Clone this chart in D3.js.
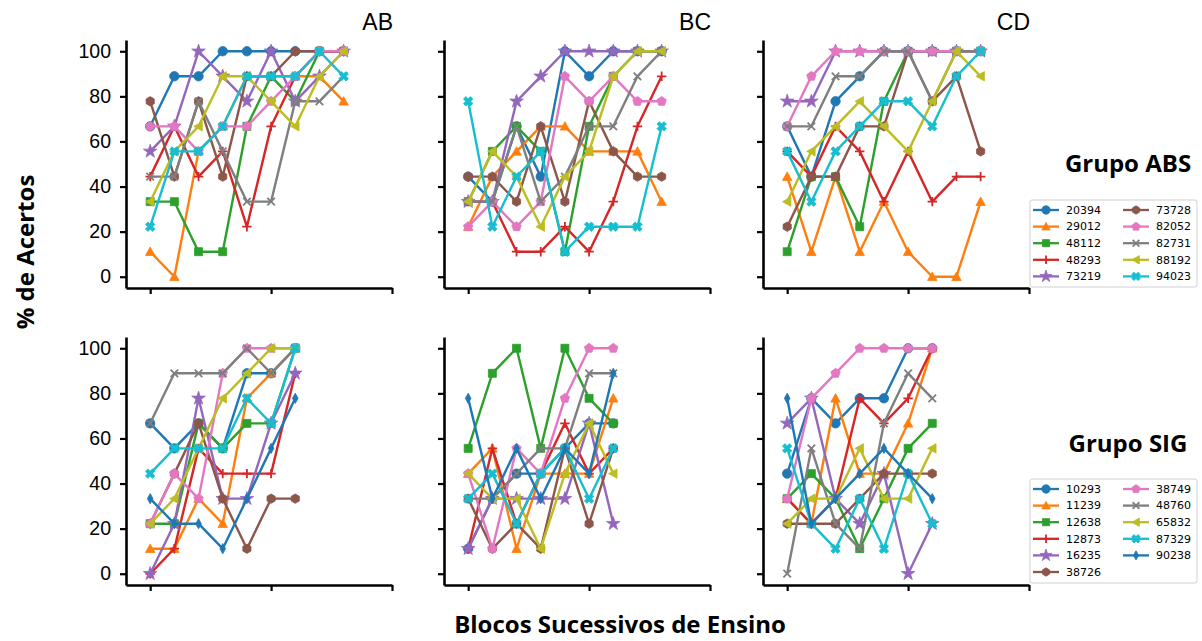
<!DOCTYPE html>
<html lang="pt">
<head>
<meta charset="UTF-8">
<title>% de Acertos por bloco</title>
<script src="https://cdn.jsdelivr.net/npm/d3@7"></script>
<style>
  body { margin: 0; background: #fff; }
  svg { display: block; }
  .tick text { font-family: "Liberation Sans", Arial, sans-serif; font-size: 19.5px; fill: #000; }
  .ptitle { font-family: "Liberation Sans", Arial, sans-serif; font-size: 23px; }
  .bold { font-family: "Open Sans", sans-serif; font-weight: 700; }
  .leg text { font-family: "DejaVu Sans", sans-serif; font-size: 11px; }
</style>
</head>
<body>
<svg width="1202" height="641"></svg>
<script>
// subject ids (legend order)
const absIds = ["20394","29012","48112","48293","73219","73728","82052","82731","88192","94023"];
const sigIds = ["10293","11239","12638","12873","16235","38726","38749","48760","65832","87329","90238"];
const absMarkers = ["o","^","s","+","*","h","p","x","<","X"];
const sigMarkers = ["o","^","s","+","*","h","p","x","<","X","d"];

// % de acertos per bloco, one row per subject, same order as ids
const absAB = [
  [66.7,88.9,88.9,100,100,100,100,100,100],
  [11.1,0,55.6,66.7,88.9,88.9,88.9,88.9,77.8],
  [33.3,33.3,11.1,11.1,66.7,88.9,77.8,100,100],
  [44.4,66.7,44.4,55.6,22.2,66.7,88.9,100,100],
  [55.6,66.7,100,88.9,77.8,100,77.8,88.9,100],
  [77.8,44.4,77.8,44.4,88.9,88.9,100,100,100],
  [66.7,66.7,55.6,66.7,66.7,77.8,88.9,100,100],
  [44.4,44.4,77.8,55.6,33.3,33.3,77.8,77.8,88.9],
  [33.3,55.6,66.7,88.9,88.9,77.8,66.7,88.9,100],
  [22.2,55.6,55.6,66.7,88.9,88.9,88.9,100,88.9]
];
const absBC = [
  [44.4,33.3,66.7,44.4,100,88.9,100,100,100],
  [22.2,44.4,55.6,66.7,66.7,55.6,55.6,55.6,33.3],
  [33.3,55.6,66.7,55.6,11.1,66.7,88.9,100,100],
  [33.3,33.3,11.1,11.1,22.2,11.1,33.3,66.7,88.9],
  [33.3,33.3,77.8,88.9,100,100,100,100,100],
  [44.4,44.4,33.3,66.7,33.3,77.8,55.6,44.4,44.4],
  [22.2,33.3,22.2,33.3,88.9,77.8,88.9,77.8,77.8],
  [33.3,33.3,66.7,33.3,44.4,66.7,66.7,88.9,100],
  [33.3,55.6,44.4,22.2,44.4,55.6,88.9,100,100],
  [77.8,22.2,44.4,55.6,11.1,22.2,22.2,22.2,66.7]
];
const absCD = [
  [66.7,44.4,77.8,88.9,100,100,100,100,100],
  [44.4,11.1,44.4,11.1,33.3,11.1,0,0,33.3],
  [11.1,44.4,44.4,22.2,77.8,100,100,100,100],
  [55.6,44.4,66.7,55.6,33.3,55.6,33.3,44.4,44.4],
  [77.8,77.8,100,100,100,100,100,100,100],
  [22.2,44.4,44.4,66.7,66.7,100,77.8,88.9,55.6],
  [66.7,88.9,100,100,100,100,100,100,100],
  [66.7,66.7,88.9,88.9,100,100,77.8,100,100],
  [33.3,55.6,66.7,77.8,66.7,55.6,77.8,100,88.9],
  [55.6,33.3,55.6,66.7,77.8,77.8,66.7,88.9,100]
];
const sigAB = [
  [66.7,55.6,66.7,55.6,88.9,88.9,100],
  [11.1,11.1,33.3,22.2,77.8,88.9,100],
  [22.2,22.2,66.7,55.6,66.7,66.7,100],
  [0,11.1,55.6,44.4,44.4,44.4,88.9],
  [0,22.2,77.8,33.3,33.3,66.7,88.9],
  [22.2,44.4,66.7,33.3,11.1,33.3,33.3],
  [22.2,44.4,33.3,88.9,100,100,100],
  [66.7,88.9,88.9,88.9,100,88.9,100],
  [22.2,33.3,55.6,77.8,88.9,100,100],
  [44.4,55.6,55.6,55.6,77.8,66.7,100],
  [33.3,22.2,22.2,11.1,33.3,55.6,77.8]
];
const sigBC = [
  [11.1,33.3,44.4,44.4,55.6,66.7,66.7],
  [44.4,55.6,11.1,44.4,44.4,44.4,77.8],
  [55.6,88.9,100,55.6,100,77.8,66.7],
  [11.1,55.6,22.2,44.4,66.7,44.4,55.6],
  [11.1,33.3,33.3,33.3,33.3,66.7,22.2],
  [33.3,11.1,22.2,11.1,55.6,22.2,55.6],
  [44.4,11.1,55.6,44.4,77.8,100,100],
  [33.3,33.3,44.4,55.6,55.6,88.9,88.9],
  [44.4,33.3,33.3,11.1,44.4,66.7,44.4],
  [33.3,44.4,22.2,44.4,55.6,33.3,55.6],
  [77.8,33.3,55.6,33.3,55.6,44.4,88.9]
];
const sigCD = [
  [44.4,77.8,66.7,77.8,77.8,100,100],
  [33.3,22.2,77.8,44.4,44.4,66.7,100],
  [33.3,44.4,33.3,11.1,33.3,55.6,66.7],
  [33.3,22.2,33.3,77.8,66.7,77.8,100],
  [66.7,77.8,33.3,22.2,44.4,0,22.2],
  [22.2,22.2,22.2,33.3,44.4,44.4,44.4],
  [33.3,77.8,88.9,100,100,100,100],
  [0,55.6,22.2,11.1,66.7,88.9,77.8],
  [22.2,33.3,33.3,55.6,33.3,33.3,55.6],
  [55.6,22.2,11.1,33.3,11.1,44.4,22.2],
  [77.8,22.2,33.3,44.4,55.6,44.4,33.3]
];
const titles = ["AB","BC","CD"];
const yTicks = [0,20,40,60,80,100];
const xTicks = [0,5,10];

const svg = d3.select("svg");
const colors = d3.schemeCategory10;
const colLeft = [126, 444, 763];
const rowTop = [40, 337];
const pw = 266, ph = 248;

const x = d3.scaleLinear().domain([-1,10]).range([0,pw]);
const y = d3.scaleLinear().domain([-5,105]).range([ph,0]);

function markerPath(m, r){
    const pts = (n, rot, rad) => d3.range(n).map(i => {
        const a = rot + i*2*Math.PI/n;
        return [rad*Math.cos(a), rad*Math.sin(a)];
    });
    const poly = p => "M" + p.map(d => d.join(",")).join("L") + "Z";
    switch(m){
        case "o": return d3.symbol(d3.symbolCircle, Math.PI*r*r)();
        case "^": return poly([[0,-r],[r,r*0.8],[-r,r*0.8]]);
        case "<": return poly([[-r,0],[r*0.8,-r],[r*0.8,r]]);
        case "s": return poly([[-r*0.85,-r*0.85],[r*0.85,-r*0.85],[r*0.85,r*0.85],[-r*0.85,r*0.85]]);
        case "*": return d3.symbol(d3.symbolStar, r*r*2.6)();
        case "h": return poly(pts(6, -Math.PI/2, r));
        case "p": return poly(pts(5, -Math.PI/2, r*1.05));
        case "d": return poly([[0,-r*1.1],[r*0.6,0],[0,r*1.1],[-r*0.6,0]]);
        case "X": {
            const w = r*0.35;
            const base = [[-w,-r],[w,-r],[w,-w],[r,-w],[r,w],[w,w],[w,r],[-w,r],[-w,w],[-r,w],[-r,-w],[-w,-w]];
            const c = Math.SQRT1_2;
            return poly(base.map(([a,b]) => [c*(a-b)*1.05, c*(a+b)*1.05]));
        }
        case "+": return `M${-r},0H${r}M0,${-r}V${r}`;
        case "x": return `M${-r*0.8},${-r*0.8}L${r*0.8},${r*0.8}M${-r*0.8},${r*0.8}L${r*0.8},${-r*0.8}`;
    }
}
const stroked = m => m === "+" || m === "x";

function drawMarker(g, m, color, r){
    g.append("path")
        .attr("d", markerPath(m, r))
        .attr("fill", stroked(m) ? "none" : color)
        .attr("stroke", color)
        .attr("stroke-width", stroked(m) ? 1.8 : 0.8);
}

const panels = [
    {data: absAB, row:0, col:0}, {data: absBC, row:0, col:1}, {data: absCD, row:0, col:2},
    {data: sigAB, row:1, col:0}, {data: sigBC, row:1, col:1}, {data: sigCD, row:1, col:2}
];

panels.forEach(p => {
    const g = svg.append("g").attr("transform", `translate(${colLeft[p.col]},${rowTop[p.row]})`);
    const markers = p.row === 0 ? absMarkers : sigMarkers;

    const ya = g.append("g").call(d3.axisLeft(y).tickValues(yTicks).tickSize(6).tickSizeOuter(0).tickPadding(9));
    const xa = g.append("g").attr("transform", `translate(0,${ph})`)
        .call(d3.axisBottom(x).tickValues(xTicks).tickFormat("").tickSize(6).tickSizeOuter(0));
    [ya, xa].forEach(a => {
        a.select(".domain").attr("stroke","#000").attr("stroke-width",2.6);
        a.selectAll(".tick line").attr("stroke","#000").attr("stroke-width",2.2);
    });
    if (p.col !== 0) ya.selectAll(".tick text").remove();

    if (p.row === 0) {
        g.append("text").attr("class","ptitle")
            .attr("x", pw + 1).attr("y", -10).attr("text-anchor","end")
            .text(titles[p.col]);
    }

    const line = d3.line().x((d,i) => x(i)).y(d => y(d));
    p.data.forEach((s, k) => {
        const c = colors[k % 10];
        const sg = g.append("g");
        sg.append("path").attr("d", line(s)).attr("fill","none")
            .attr("stroke", c).attr("stroke-width", 2.4).attr("stroke-linejoin","round");
        s.forEach((v, i) => {
            drawMarker(sg.append("g").attr("transform", `translate(${x(i)},${y(v)})`), markers[k], c, 4.7);
        });
    });
});

// legends
function legend(ids, markers, x0, y0, h, perCol){
    const g = svg.append("g").attr("class","leg").attr("transform", `translate(${x0},${y0})`);
    g.append("rect").attr("width",167).attr("height",h).attr("rx",2)
        .attr("fill","#fff").attr("stroke","#d0d0d0").attr("stroke-width",1);
    ids.forEach((id, k) => {
        const cx = k < perCol ? 3 : 93;
        const cy = 10 + (k % perCol) * 16.6;
        const c = colors[k % 10];
        const e = g.append("g").attr("transform", `translate(${cx},${cy})`);
        e.append("line").attr("x1",0).attr("x2",26).attr("stroke",c).attr("stroke-width",2.3);
        drawMarker(e.append("g").attr("transform","translate(13,0)"), markers[k], c, 4.2);
        e.append("text").attr("x",33).attr("dy","0.35em").text(id);
    });
}
legend(absIds, absMarkers, 1030, 200, 87, 5);
legend(sigIds, sigMarkers, 1030, 479, 104, 6);

svg.append("text").attr("class","bold").attr("font-size",24)
    .attr("transform","translate(34,252) rotate(-90)").attr("text-anchor","middle").text("% de Acertos");
svg.append("text").attr("class","bold").attr("font-size",24)
    .attr("x",620).attr("y",633).attr("text-anchor","middle").text("Blocos Sucessivos de Ensino");
svg.append("text").attr("class","bold").attr("font-size",24)
    .attr("x",1128).attr("y",172).attr("text-anchor","middle").text("Grupo ABS");
svg.append("text").attr("class","bold").attr("font-size",24)
    .attr("x",1128).attr("y",452).attr("text-anchor","middle").text("Grupo SIG");
</script>
</body>
</html>
